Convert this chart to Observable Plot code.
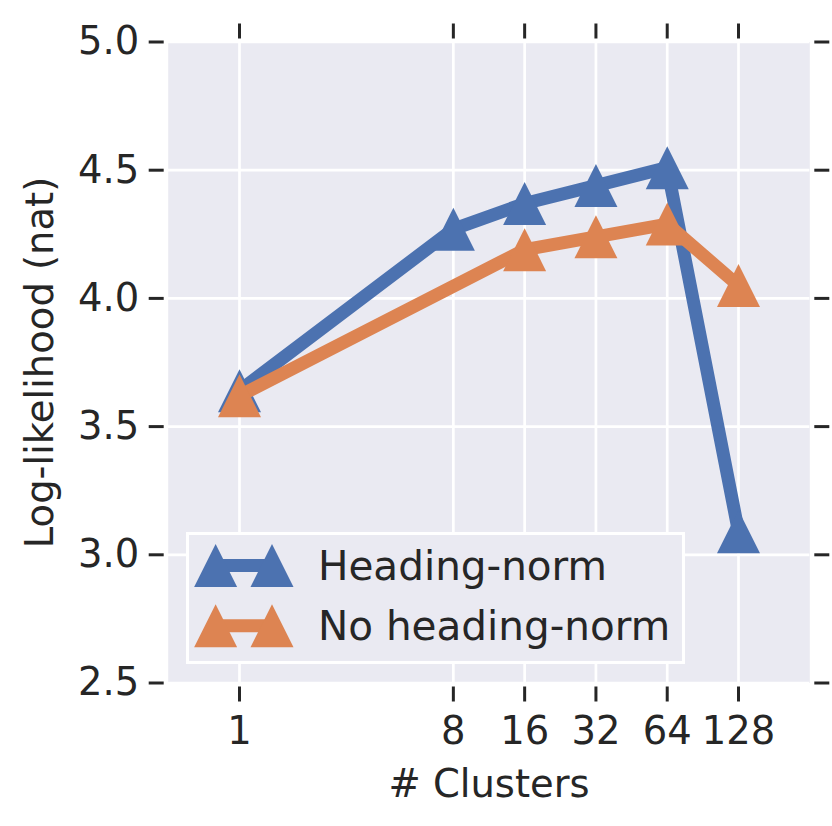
<!DOCTYPE html>
<html>
<head>
<meta charset="utf-8">
<script src="https://cdn.jsdelivr.net/npm/d3@7"></script>
<script src="https://cdn.jsdelivr.net/npm/@observablehq/plot@0.6"></script>
<style>
  html, body { margin: 0; padding: 0; background: white; }
  #wrap { position: relative; width: 832px; height: 826px; }
  #legend { position: absolute; left: 186px; top: 532px; }
</style>
</head>
<body>
<div id="wrap"></div>
<script>
// ---- data ----
const clusters = [1, 8, 16, 32, 64, 128];
const headingNorm = [3.64, 4.27, 4.37, 4.44, 4.51, 3.09];
const noHeadingClusters = [1, 16, 32, 64, 128];
const noHeadingNorm = [3.62, 4.19, 4.24, 4.29, 4.05];
const yTicks = [2.5, 3.0, 3.5, 4.0, 4.5, 5.0];
const seriesNames = ["Heading-norm", "No heading-norm"];
const colors = ["#4C72B0", "#DD8452"];

const rows = [
  ...clusters.map((c, i) => ({series: seriesNames[0], x: c, y: headingNorm[i]})),
  ...noHeadingClusters.map((c, i) => ({series: seriesNames[1], x: c, y: noHeadingNorm[i]}))
];

// matplotlib-like '^' marker (bbox-centred, width = height)
const tri = {
  draw(ctx, size) {
    const h = Math.sqrt(size / Math.PI);
    ctx.moveTo(0, -h);
    ctx.lineTo(h, h);
    ctx.lineTo(-h, h);
    ctx.closePath();
  }
};

const ink = "#262626";
const font = "DejaVu Sans, sans-serif";

const seriesMarks = seriesNames.flatMap((name, k) => {
  const d = rows.filter(r => r.series === name);
  return [
    Plot.line(d, {x: "x", y: "y", stroke: colors[k], strokeWidth: 13, strokeLinejoin: "miter", strokeLinecap: "butt"}),
    Plot.dot(d, {x: "x", y: "y", fill: colors[k], stroke: null, symbol: tri, r: 21.5})
  ];
});

const chart = Plot.plot({
  width: 832,
  height: 826,
  marginLeft: 167.7,
  marginRight: 22.7,
  marginTop: 41.5,
  marginBottom: 143.5,
  style: {fontFamily: font, fontSize: "40px", color: ink, background: "white", overflow: "visible"},
  x: {type: "log", base: 2, domain: [0.5, 256]},
  y: {domain: [2.5, 5]},
  marks: [
    Plot.frame({fill: "#EAEAF2", stroke: null}),
    Plot.gridX(clusters, {stroke: "white", strokeOpacity: 1, strokeWidth: 2.7}),
    Plot.gridY(yTicks, {stroke: "white", strokeOpacity: 1, strokeWidth: 2.7}),
    Plot.axisX(clusters, {anchor: "bottom", tickSize: 15, tickPadding: 15, dy: 4, strokeWidth: 3,
      tickFormat: d => String(d), label: "# Clusters", labelAnchor: "center", labelArrow: "none", labelOffset: 114, fontSize: 38.5}),
    Plot.axisX(clusters, {anchor: "top", tickSize: 15, dy: -4, strokeWidth: 3, tickFormat: () => "", label: null}),
    Plot.axisY(yTicks, {anchor: "left", tickSize: 15, tickPadding: 10, dx: -4, strokeWidth: 3,
      tickFormat: d => d.toFixed(1), label: "Log-likelihood (nat)", labelAnchor: "center", labelArrow: "none", labelOffset: 143, fontSize: 38.5}),
    Plot.axisY(yTicks, {anchor: "right", tickSize: 15, dx: 4, strokeWidth: 3, tickFormat: () => "", label: null}),
    ...seriesMarks
  ]
});

const wrap = document.getElementById("wrap");
wrap.appendChild(chart);

// ---- legend ----
const lw = 499, lh = 132;
const leg = d3.create("svg").attr("id", "legend").attr("width", lw).attr("height", lh)
  .style("font-family", font);
leg.append("rect").attr("x", 1.5).attr("y", 1.5).attr("width", lw - 3).attr("height", lh - 3)
  .attr("fill", "#EAEAF2").attr("stroke", "white").attr("stroke-width", 3);
seriesNames.forEach((name, k) => {
  const cy = 33.5 + k * 60.2;
  const g = leg.append("g").attr("transform", `translate(0,${cy})`);
  g.append("line").attr("x1", 29.6).attr("x2", 86).attr("y1", 0).attr("y2", 0)
    .attr("stroke", colors[k]).attr("stroke-width", 13);
  [29.6, 86].forEach(cx => {
    const h = 21.5;
    g.append("path").attr("d", `M${cx},${-h}L${cx + h},${h}L${cx - h},${h}Z`).attr("fill", colors[k]);
  });
  g.append("text").attr("x", 132).attr("y", 0).attr("dy", "0.36em")
    .attr("font-size", 40.5).attr("fill", ink).text(name);
});
wrap.appendChild(leg.node());
</script>
</body>
</html>
